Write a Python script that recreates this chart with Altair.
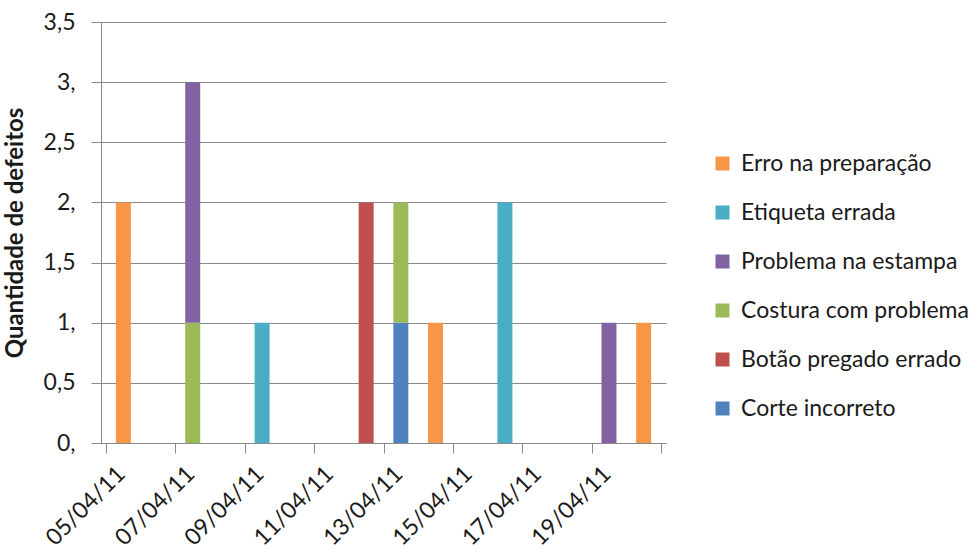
import altair as alt
import pandas as pd

# Defeitos registrados por dia e por tipo
datas = [
    "2011-04-05", "2011-04-07", "2011-04-07", "2011-04-09", "2011-04-12",
    "2011-04-13", "2011-04-13", "2011-04-14", "2011-04-16", "2011-04-19",
    "2011-04-20",
]
tipos = [
    "Erro na preparação", "Costura com problema", "Problema na estampa",
    "Etiqueta errada", "Botão pregado errado", "Corte incorreto",
    "Costura com problema", "Erro na preparação", "Etiqueta errada",
    "Problema na estampa", "Erro na preparação",
]
quantidades = [2, 1, 2, 1, 2, 1, 1, 1, 2, 1, 1]

# Ordem da legenda e cores de cada tipo de defeito
categorias = [
    "Erro na preparação", "Etiqueta errada", "Problema na estampa",
    "Costura com problema", "Botão pregado errado", "Corte incorreto",
]
cores = ["#F79646", "#4BACC6", "#8064A2", "#9BBB59", "#C0504D", "#4F81BD"]

df = pd.DataFrame({"data": pd.to_datetime(datas), "tipo": tipos, "qtd": quantidades})
# cada barra fica no meio do dia correspondente
df["dia"] = df["data"] + pd.Timedelta(hours=12)
# "Corte incorreto" na base da pilha, "Erro na preparação" no topo
df["pilha"] = [len(categorias) - 1 - categorias.index(t) for t in df["tipo"]]

FONTE = "Lato"
CINZA = "#8a8a8a"

marcas_x = [alt.DateTime(year=2011, month=4, date=d) for d in range(5, 22, 2)]

chart = (
    alt.Chart(df)
    .mark_bar(size=15)
    .encode(
        x=alt.X(
            "dia:T",
            scale=alt.Scale(
                domain=[
                    alt.DateTime(year=2011, month=4, date=5),
                    alt.DateTime(year=2011, month=4, date=21),
                ],
                nice=False,
            ),
            axis=alt.Axis(
                values=marcas_x,
                labelExpr="datum.value >= datetime(2011, 3, 21) ? '' : timeFormat(datum.value, '%d/%m/%y')",
                labelAngle=-45,
                labelAlign="right",
                labelBaseline="middle",
                labelOffset=15,
                labelPadding=17,
                tickSize=10,
                grid=False,
                title=None,
                labelOverlap=False,
            ),
        ),
        y=alt.Y(
            "sum(qtd):Q",
            stack="zero",
            scale=alt.Scale(domain=[0, 3.5], nice=False),
            axis=alt.Axis(
                values=[0, 0.5, 1, 1.5, 2, 2.5, 3, 3.5],
                labelExpr="datum.value % 1 === 0 ? datum.value + ',' : replace(datum.value + '', '.', ',')",
                tickSize=10,
                labelPadding=16,
                title="Quantidade de defeitos",
                titleFontWeight="bold",
                titleBaseline="middle",
                titleX=-86,
            ),
        ),
        color=alt.Color(
            "tipo:N",
            scale=alt.Scale(domain=categorias, range=cores),
            legend=alt.Legend(
                title=None,
                orient="none",
                legendX=610,
                legendY=130,
                symbolType="square",
                symbolSize=196,
                symbolStrokeWidth=0,
                symbolOpacity=1,
                labelFontSize=23,
                labelFont=FONTE,
                labelColor="#1a1a1a",
                labelLimit=0,
                rowPadding=25,
                labelOffset=7,
            ),
        ),
        order=alt.Order("pilha:Q", sort="ascending"),
    )
    .properties(
        width=565,
        height=421,
        autosize=alt.AutoSizeParams(type="none"),
        padding={"left": 101, "top": 22, "right": 312, "bottom": 111},
    )
    .configure(font=FONTE, background="white")
    .configure_view(stroke=None)
    .configure_axis(
        labelFont=FONTE,
        labelFontSize=23,
        labelColor="#1a1a1a",
        titleFont=FONTE,
        titleFontSize=24,
        titleColor="#1a1a1a",
        domainColor=CINZA,
        tickColor=CINZA,
        gridColor=CINZA,
        gridOpacity=1,
        domainWidth=1,
        tickWidth=1,
        gridWidth=1,
    )
)

chart.save("out.html", embed_options={"renderer": "svg", "actions": False})
